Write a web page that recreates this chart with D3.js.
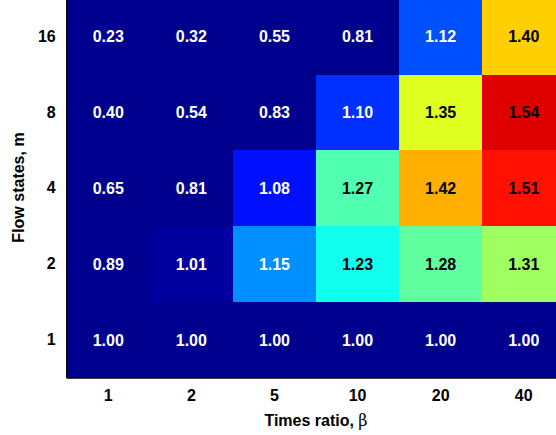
<!DOCTYPE html>
<html>
<head>
<meta charset="utf-8">
<script src="https://cdn.jsdelivr.net/npm/d3@7"></script>
<style>
  html, body { margin: 0; padding: 0; background: #fff; }
  svg { display: block; }
  text { font-family: "Liberation Sans", Arial, Helvetica, sans-serif; font-weight: bold; }
</style>
</head>
<body>
<svg id="chart" width="556" height="435"></svg>
<script>
// ---- data ----
const betaLabels = ["1", "2", "5", "10", "20", "40"];          // x categories (times ratio)
const mLabels = ["16", "8", "4", "2", "1"];                     // y categories, top to bottom (flow states)
const values16 = [0.23, 0.32, 0.55, 0.81, 1.12, 1.40];
const values8  = [0.40, 0.54, 0.83, 1.10, 1.35, 1.54];
const values4  = [0.65, 0.81, 1.08, 1.27, 1.42, 1.51];
const values2  = [0.89, 1.01, 1.15, 1.23, 1.28, 1.31];
const values1  = [1.00, 1.00, 1.00, 1.00, 1.00, 1.00];
const rowValues = [values16, values8, values4, values2, values1];
const colorLimits = [1.0, 1.6];

// ---- MATLAB jet(64) colormap ----
function jet64() {
  const n = 16, u = [];
  for (let i = 1; i <= n; i++) u.push(i / n);
  for (let i = 0; i < n - 1; i++) u.push(1);
  for (let i = n; i >= 1; i--) u.push(i / n);
  const m = 64, cm = [];
  for (let i = 0; i < m; i++) cm.push([0, 0, 0]);
  const g0 = Math.ceil(n / 2) - (m % 4 === 1 ? 1 : 0);
  for (let k = 1; k <= u.length; k++) {
    const g = g0 + k, r = g + n, b = g - n;
    if (g >= 1 && g <= m) cm[g - 1][1] = u[k - 1];
    if (r >= 1 && r <= m) cm[r - 1][0] = u[k - 1];
    if (b >= 1 && b <= m) cm[b - 1][2] = u[k - 1];
  }
  return cm.map(c => d3.rgb(Math.round(c[0] * 255), Math.round(c[1] * 255), Math.round(c[2] * 255)).formatHex());
}
const cmap = jet64();
const colorScale = d3.scaleQuantize().domain(colorLimits).range(cmap);
function cellColor(v) {
  const c = Math.max(colorLimits[0], Math.min(colorLimits[1] - 1e-9, v));
  return colorScale(c);
}

// ---- layout ----
const svg = d3.select("#chart");
const plotLeft = 66.7, plotRight = 565.3, plotTop = -1.3, plotBottom = 378;
const x = d3.scaleBand().domain(betaLabels).range([plotLeft, plotRight]).padding(0);
const y = d3.scaleBand().domain(mLabels).range([plotTop, plotBottom]).padding(0);

const cells = [];
mLabels.forEach((m, ri) => betaLabels.forEach((b, ci) => cells.push({ m, b, v: rowValues[ri][ci] })));

const rx0 = d => Math.round(x(d.b)), rx1 = d => Math.round(x(d.b) + x.bandwidth());
const ry0 = d => Math.round(y(d.m)), ry1 = d => Math.round(y(d.m) + y.bandwidth());

svg.append("g").attr("shape-rendering", "crispEdges")
  .selectAll("rect").data(cells).join("rect")
  .attr("x", rx0).attr("y", ry0)
  .attr("width", d => rx1(d) - rx0(d)).attr("height", d => ry1(d) - ry0(d))
  .attr("fill", d => cellColor(d.v));

svg.append("g").selectAll("text").data(cells).join("text")
  .attr("x", d => x(d.b) + x.bandwidth() / 2)
  .attr("y", d => y(d.m) + y.bandwidth() / 2)
  .attr("dy", "0.35em")
  .attr("text-anchor", "middle")
  .attr("font-size", 16)
  .attr("fill", d => d.v < 1.2 ? "#ffffff" : "#000000")
  .text(d => d.v.toFixed(2));

// axes
const xAxis = d3.axisBottom(x).tickSize(0).tickPadding(12);
const gx = svg.append("g").attr("transform", `translate(0,${plotBottom})`).call(xAxis);
const yAxis = d3.axisLeft(y).tickSize(0).tickPadding(11);
const gy = svg.append("g").attr("transform", `translate(${plotLeft},0)`).call(yAxis);
[gx, gy].forEach(g => {
  g.select(".domain").remove();
  g.selectAll("text").attr("font-size", 16).attr("fill", "#000")
    .attr("font-family", "'Liberation Sans', Arial, sans-serif").attr("font-weight", "bold");
});

// axis lines
svg.append("line").attr("x1", plotLeft).attr("x2", 556).attr("y1", plotBottom).attr("y2", plotBottom)
  .attr("stroke", "#000").attr("stroke-width", 1.3);
svg.append("line").attr("x1", plotLeft).attr("x2", plotLeft).attr("y1", 0).attr("y2", plotBottom)
  .attr("stroke", "#000").attr("stroke-width", 1.3);

// axis titles
const xt = svg.append("text").attr("x", (plotLeft + plotRight) / 2).attr("y", 426)
  .attr("text-anchor", "middle").attr("font-size", 16).attr("fill", "#000");
xt.append("tspan").text("Times ratio, ");
xt.append("tspan").attr("font-family", "'DejaVu Serif', 'Liberation Serif', serif").attr("font-weight", "normal").text("β");

svg.append("text").attr("transform", `translate(24,187.5) rotate(-90)`)
  .attr("text-anchor", "middle").attr("font-size", 16).attr("fill", "#000")
  .text("Flow states, m");
</script>
</body>
</html>
